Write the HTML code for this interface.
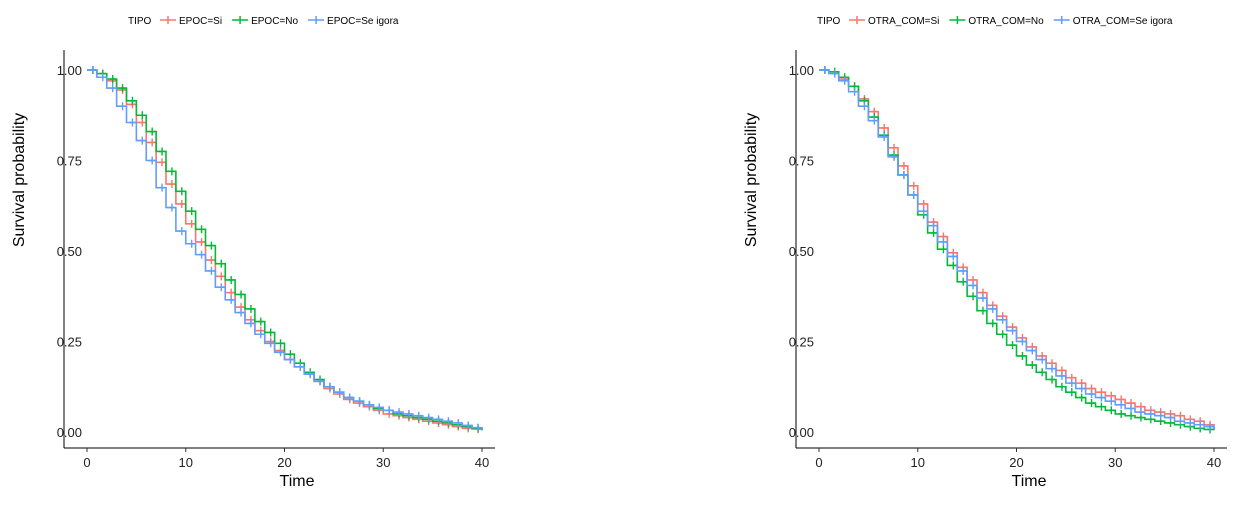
<!DOCTYPE html>
<html><head><meta charset="utf-8"><style>
body{margin:0;background:#fff;font-family:"Liberation Sans",Arial,sans-serif}
svg text{font-family:"Liberation Sans",Arial,sans-serif}
</style></head><body>
<svg id="chart" width="1254" height="508" xmlns="http://www.w3.org/2000/svg"></svg>
<script>
const timeTicks=[0,10,20,30,40];
const probTicks=[0,0.25,0.5,0.75,1];
const probTickLabels=["0.00","0.25","0.50","0.75","1.00"];
const times=[0,1,2,3,4,5,6,7,8,9,10,11,12,13,14,15,16,17,18,19,20,21,22,23,24,25,26,27,28,29,30,31,32,33,34,35,36,37,38,39,40];
const leftLabels=["EPOC=Si","EPOC=No","EPOC=Se igora"];
const leftSi=[1,.99,.97,.945,.905,.855,.80,.745,.685,.63,.575,.525,.475,.43,.385,.345,.31,.28,.25,.225,.2,.18,.16,.14,.12,.105,.09,.08,.07,.06,.05,.045,.04,.035,.03,.025,.02,.015,.01,.008,.005];
const leftNo=[1,.99,.975,.95,.915,.875,.83,.775,.72,.665,.61,.56,.515,.465,.42,.38,.34,.305,.275,.245,.215,.19,.165,.145,.125,.11,.095,.085,.075,.065,.06,.05,.045,.04,.035,.03,.025,.02,.015,.01,.005];
const leftIg=[1,.98,.95,.9,.855,.805,.75,.675,.62,.555,.52,.49,.445,.40,.365,.33,.30,.27,.245,.22,.2,.18,.16,.14,.125,.11,.095,.085,.075,.068,.06,.055,.05,.045,.04,.035,.03,.025,.018,.012,.007];
const rightLabels=["OTRA_COM=Si","OTRA_COM=No","OTRA_COM=Se igora"];
const rightSi=[1,.995,.975,.955,.92,.885,.84,.785,.735,.68,.63,.58,.54,.495,.455,.42,.385,.35,.32,.29,.26,.235,.21,.19,.17,.15,.135,.12,.11,.1,.09,.08,.07,.06,.055,.05,.045,.035,.03,.02,.01];
const rightNo=[1,.995,.98,.955,.915,.87,.82,.765,.71,.655,.60,.55,.505,.46,.415,.375,.335,.30,.27,.24,.21,.185,.165,.145,.125,.11,.095,.08,.07,.06,.05,.045,.04,.035,.03,.025,.02,.015,.01,.007,.005];
const rightIg=[1,.99,.97,.94,.9,.86,.815,.76,.71,.655,.61,.57,.525,.485,.445,.405,.37,.34,.31,.28,.25,.225,.2,.175,.155,.135,.12,.105,.095,.085,.075,.065,.055,.05,.045,.04,.03,.025,.02,.015,.008];
const colors=["#F8766D","#00BA38","#619CFF"];
const NS="http://www.w3.org/2000/svg";
const svg=document.getElementById("chart");
function mk(tag,attrs,parent,text){const e=document.createElementNS(NS,tag);for(const k in attrs)e.setAttribute(k,attrs[k]);if(text!==undefined)e.textContent=text;(parent||svg).appendChild(e);return e;}
function panel(ox,prefix,labels,series,legendX){
  const g=mk("g",{});
  
  
  const x=t=>ox+87+t*9.875, y=p=>432-p*362;
  const axisX0=ox+64;
  const ya=mk("line",{x1:axisX0,y1:50,x2:axisX0,y2:448,stroke:"#000","stroke-width":1},g);
  
  const xa=mk("line",{x1:axisX0,y1:448,x2:ox+495,y2:448,stroke:"#000","stroke-width":1},g);
  
  probTicks.forEach((p,i)=>{
    const t=mk("text",{x:axisX0+18,y:y(p)+5,"text-anchor":"end","font-size":13,fill:"#222"},g,probTickLabels[i]);
    
  });
  timeTicks.forEach(v=>{
    mk("line",{x1:x(v),y1:448,x2:x(v),y2:452,stroke:"#333"},g);
    const t=mk("text",{x:x(v),y:467,"text-anchor":"middle","font-size":13,fill:"#222"},g,v);
    
  });
  const yt=mk("text",{x:0,y:0,transform:`translate(${ox+24},180) rotate(-90)`,"text-anchor":"middle","font-size":16,fill:"#000"},g,"Survival probability");
  
  const xt=mk("text",{x:ox+297,y:486,"text-anchor":"middle","font-size":16,fill:"#000"},g,"Time");
  
  series.forEach((s,si)=>{
    let d=`M${x(times[0])},${y(s[0])}`;
    for(let i=1;i<times.length;i++){d+=`H${x(times[i])}V${y(s[i])}`;}
    const p=mk("path",{d:d,fill:"none",stroke:colors[si],"stroke-width":1.6},g);
    
    for(let i=0;i<times.length-1;i++){
      const cx=x(times[i]+0.6),cy=y(s[i]);
      const c=mk("path",{d:`M${cx},${cy-4}V${cy+4}M${cx-3},${cy}H${cx+3}`,stroke:colors[si],"stroke-width":1.4},g);
      
    }
  });
  const lg=mk("g",{},g);
  
  mk("text",{x:legendX,y:24,"font-size":10,fill:"#000"},lg,"TIPO");
  let lx=legendX+32;
  labels.forEach((lab,i)=>{
    const e=mk("g",{},lg);
    
    mk("path",{d:`M${lx},20H${lx+16}M${lx+8},16V24`,stroke:colors[i],"stroke-width":1.5},e);
    const t=mk("text",{x:lx+19,y:24,"font-size":10,fill:"#000"},e,lab);
    lx+=19+t.getComputedTextLength()+10;
  });
}
panel(0,"left",leftLabels,[leftSi,leftNo,leftIg],128);
panel(732,"right",rightLabels,[rightSi,rightNo,rightIg],817);
</script>
</body></html>
